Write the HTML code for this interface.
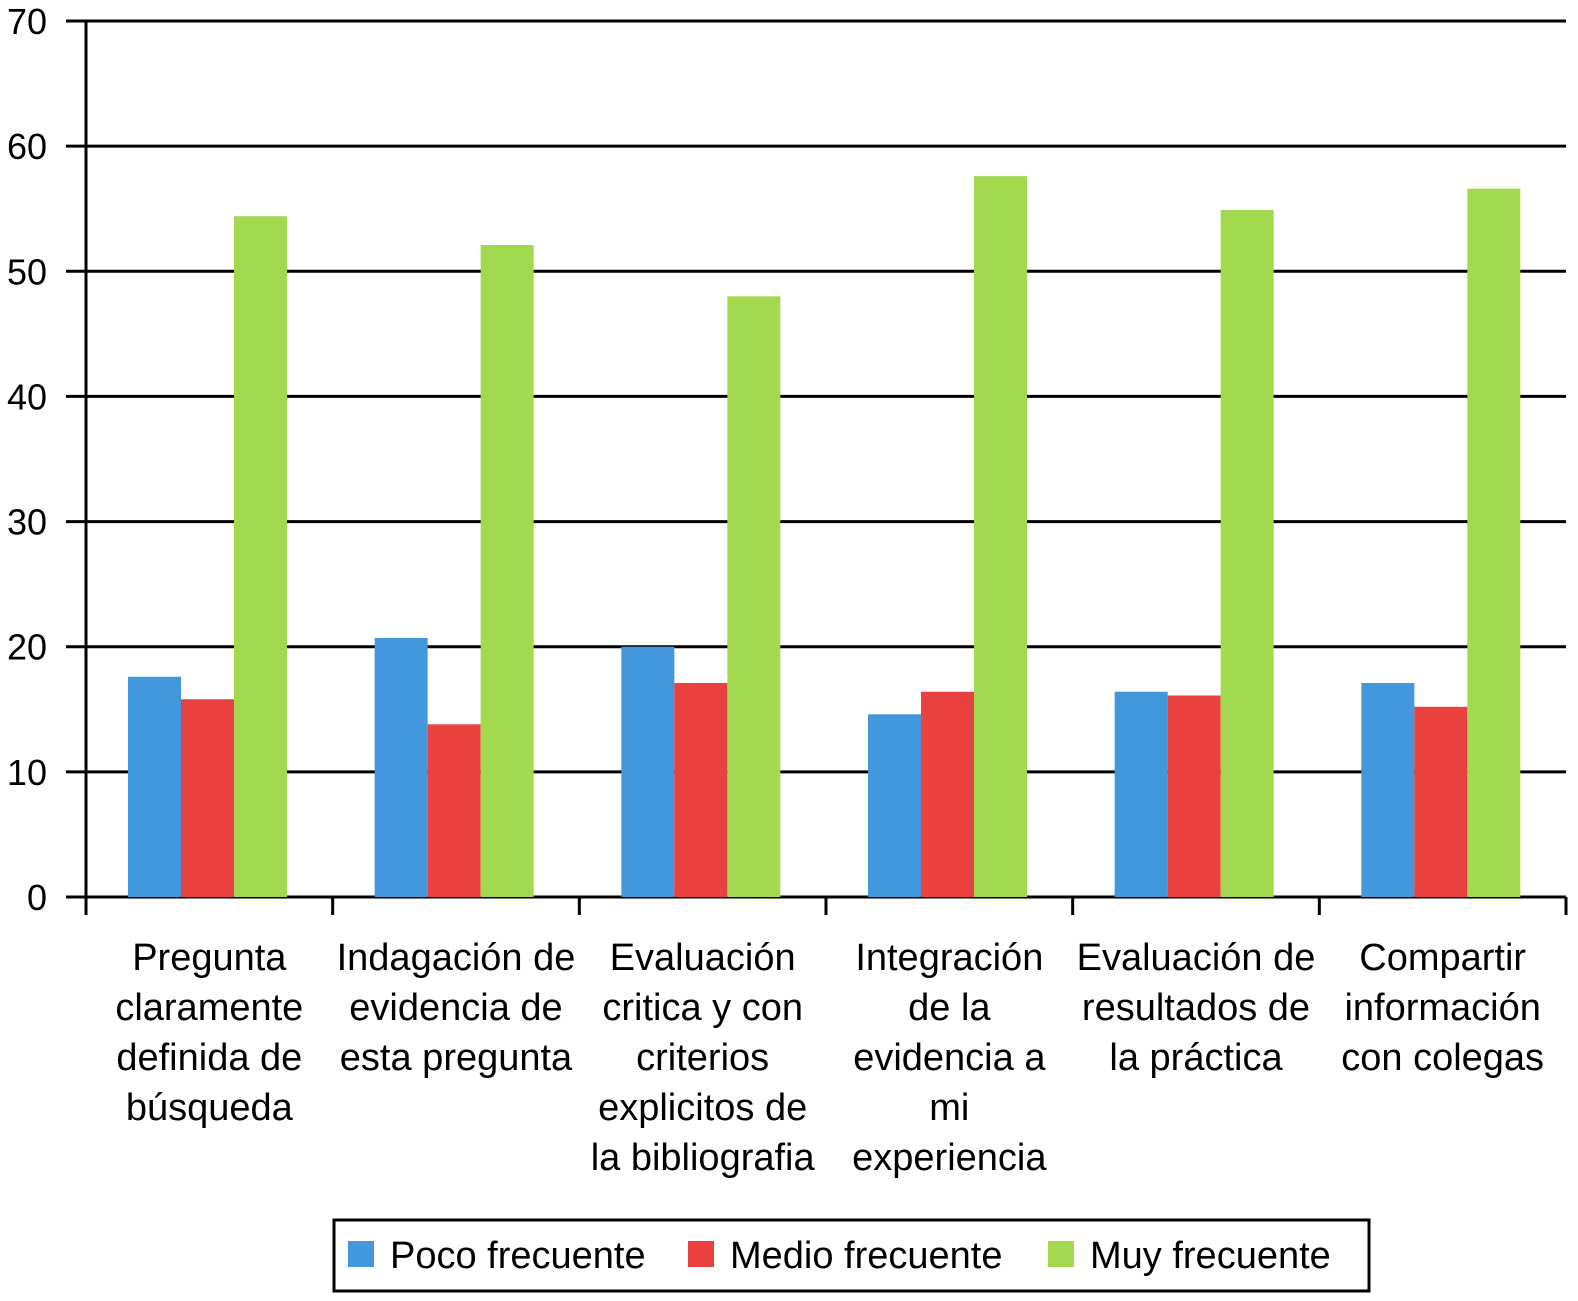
<!DOCTYPE html>
<html><head><meta charset="utf-8"><style>
body{margin:0;background:#fff;}
svg{display:block;font-family:"Liberation Sans",sans-serif;}
</style></head><body>
<svg id="chart" width="1578" height="1301"></svg>
<script>
const categories=[["Pregunta","claramente","definida de","búsqueda"],["Indagación de","evidencia de","esta pregunta"],["Evaluación","critica y con","criterios","explicitos de","la bibliografia"],["Integración","de la","evidencia a","mi","experiencia"],["Evaluación de","resultados de","la práctica"],["Compartir","información","con colegas"]];
const seriesNames=["Poco frecuente","Medio frecuente","Muy frecuente"];
const poco=[17.6,20.7,20.0,14.6,16.4,17.1];
const medio=[15.8,13.8,17.1,16.4,16.1,15.2];
const muy=[54.4,52.1,48.0,57.6,54.9,56.6];
const yTicks=[0,10,20,30,40,50,60,70];
const colors=["#4397dd","#e8413f","#a2d94e"];
const NS="http://www.w3.org/2000/svg";
const svg=document.getElementById('chart');
const x0=86,x1=1566,y0=897,yTop=21,yMax=70;
const y=v=>y0-(v/yMax)*(y0-yTop);
const cw=(x1-x0)/categories.length;
function mk(t,a){const e=document.createElementNS(NS,t);for(const k in a)e.setAttribute(k,a[k]);svg.appendChild(e);return e;}
yTicks.forEach(t=>{
  const l=mk('line',{x1:66,x2:x1,y1:y(t),y2:y(t),stroke:'#000','stroke-width':3});
  
  
  const tx=mk('text',{x:47,y:y(t)+13,'text-anchor':'end','font-size':36});
  tx.textContent=t;
  
  
});
const ax=mk('line',{x1:x0,x2:x0,y1:yTop,y2:y0+18,stroke:'#000','stroke-width':3});


for(let i=0;i<=categories.length;i++){
  const t=mk('line',{x1:x0+i*cw,x2:x0+i*cw,y1:y0,y2:y0+18,stroke:'#000','stroke-width':3});
  
  
}
const data=[poco,medio,muy];
const bw=53,off=42;
categories.forEach((c,i)=>{
  data.forEach((s,j)=>{
    const r=mk('rect',{x:x0+i*cw+off+j*bw,y:y(s[i]),width:bw,height:y0-y(s[i]),fill:colors[j]});
    
    
  });
  c.forEach((line,k)=>{
    const t=mk('text',{x:x0+i*cw+cw/2,y:970+k*50,'text-anchor':'middle','font-size':38});
    t.textContent=line;
    
    
  });
});
const lg=mk('rect',{x:334,y:1220,width:1035,height:71,fill:'#fff',stroke:'#000','stroke-width':3});


const lx=[348,688,1048];
seriesNames.forEach((n,j)=>{
  const sw=mk('rect',{x:lx[j],y:1241,width:26,height:26,fill:colors[j]});
  
  
  const t=mk('text',{x:lx[j]+42,y:1268,'font-size':38});
  t.textContent=n;
  
  
});
</script>
</body></html>
